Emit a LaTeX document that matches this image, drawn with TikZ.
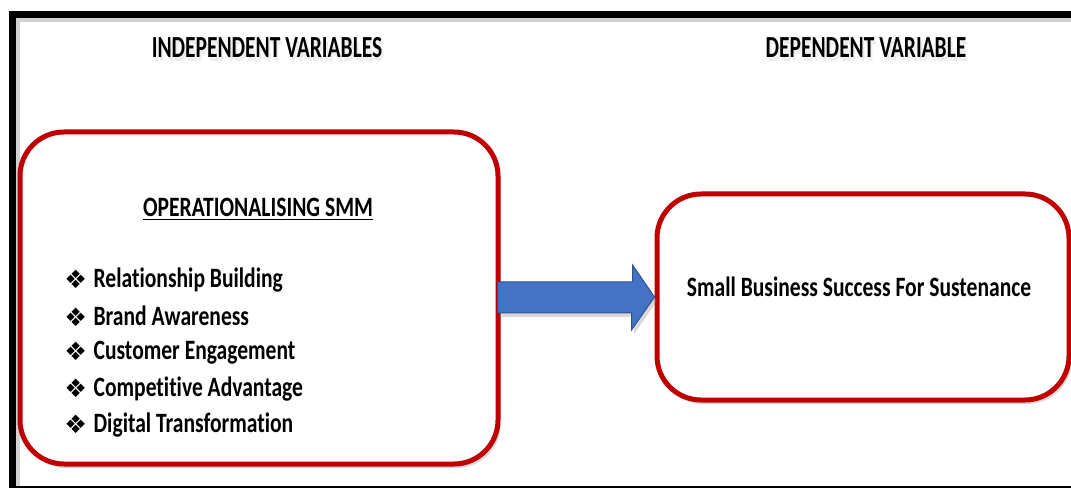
\documentclass[tikz,border=0pt]{standalone}
\usepackage{fontspec}
\setmainfont{Carlito}
\newfontfamily\narrowfont[FakeStretch=0.77,Ligatures=NoCommon]{Carlito}
\newfontfamily\headfont[FakeStretch=0.7,Ligatures=NoCommon]{Carlito}
\newfontfamily\dingfont{DejaVu Sans}
\usetikzlibrary{calc,shadows}
\definecolor{boxred}{RGB}{192,0,0}
\definecolor{arrowblue}{RGB}{68,114,196}
\definecolor{arrowedge}{RGB}{47,82,143}

\begin{document}
\begin{tikzpicture}[x=0.75pt,y=-0.75pt,
    redbox/.style={draw=boxred,line width=3.75pt,rounded corners=33pt,fill=white,
      drop shadow={shadow xshift=2pt,shadow yshift=-3pt,opacity=0.3}},
    heading/.style={font=\headfont\bfseries\fontsize{23}{26}\selectfont},
    itemtext/.style={font=\narrowfont\bfseries\fontsize{21}{24}\selectfont,anchor=west,inner sep=0pt}]
  \useasboundingbox (0,0) rectangle (1071,488);
  % outer frame
  \draw[gray!35,line width=3pt] (1075,20) -- (18,20) -- (18,488);
  \draw[line width=5.25pt] (1075,15) -- (12.5,15) -- (12.5,492);
  \draw[line width=1.2pt] (12,487) -- (1075,487);
  % headings
  \node[heading,text=gray!40,opacity=0.35] at (269,52) (ivshadow) {INDEPENDENT VARIABLES};
  \node[heading] at (267,48) (iv) {INDEPENDENT VARIABLES};
  \node[heading,text=gray!40,opacity=0.35] at (868,52) (dvshadow) {DEPENDENT VARIABLE};
  \node[heading] at (866,48) (dv) {DEPENDENT VARIABLE};
  % boxes
  \node[redbox,minimum width=358.5pt,minimum height=249pt] at (259,298) (lbox) {};
  \node[redbox,minimum width=309pt,minimum height=154.5pt] at (863,297) (rbox) {};
  \node[itemtext,anchor=center] at (258,209) (smm) {\underline{OPERATIONALISING SMM}};
  \foreach \t [count=\i] in {Relationship Building,Brand Awareness,Customer Engagement,Competitive Advantage,Digital Transformation}{
    \node[itemtext] at (64,{280+36.25*(\i-1)}) (item\i) {{\dingfont\fontsize{19}{19}\selectfont\raisebox{-1pt}{❖}}\hspace{5pt}\t};
  }
  \node[itemtext,anchor=center] at (859,287) (success) {Small Business Success For Sustenance};
  % arrow
  \draw[fill=arrowblue,draw=arrowedge,line width=0.75pt,drop shadow={shadow xshift=2pt,shadow yshift=-3pt,opacity=0.3}]
    ($(lbox.east)+(-3,-16)$) -- ++(135,0) -- ++(0,-17) -- (rbox.west) -- ++(-23,33) -- ++(0,-17)
    -- ($(lbox.east)+(-3,15)$) -- cycle;
\end{tikzpicture}
\end{document}
